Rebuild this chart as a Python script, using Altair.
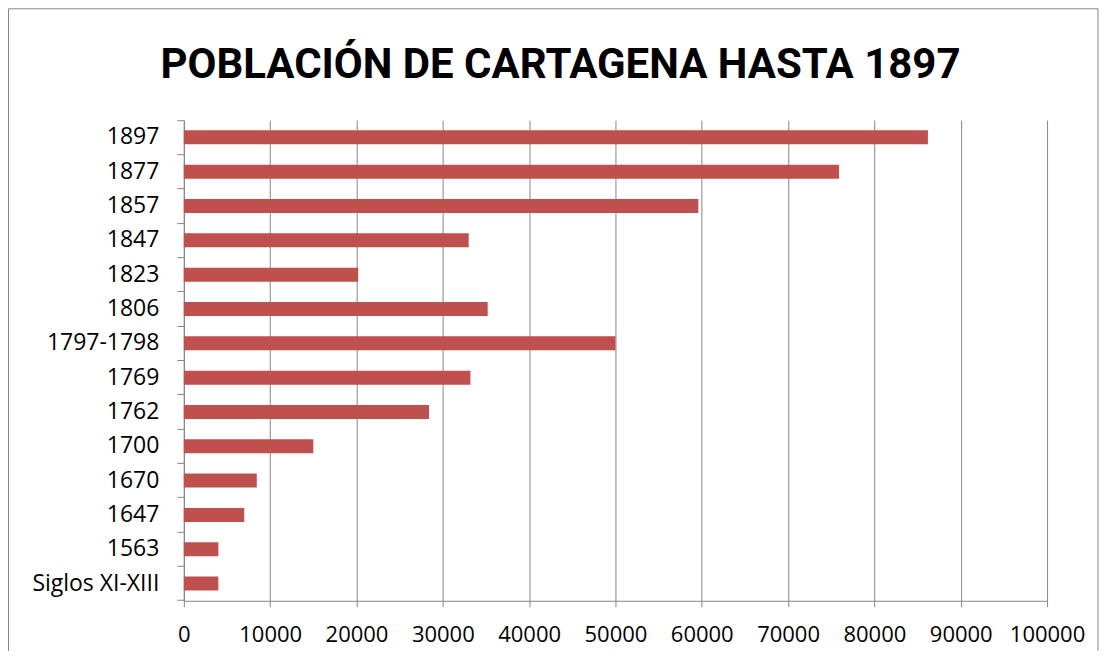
import altair as alt
import pandas as pd

categories = ["1897", "1877", "1857", "1847", "1823", "1806", "1797-1798",
              "1769", "1762", "1700", "1670", "1647", "1563", "Siglos XI-XIII"]
population = [86200, 75900, 59600, 33000, 20200, 35200, 50000,
              33200, 28400, 15000, 8450, 7000, 4000, 4000]
x_ticks = [0, 10000, 20000, 30000, 40000, 50000, 60000, 70000, 80000, 90000, 100000]
title_text = "POBLACIÓN DE CARTAGENA HASTA 1897"

df = pd.DataFrame({"periodo": categories, "poblacion": population})

GRAY = "#868686"
LABEL_FONT = "Open Sans"

bars = alt.Chart(df).mark_bar(size=14, color="#C0504D").encode(
    x=alt.X(
        "poblacion:Q",
        scale=alt.Scale(domain=[0, 100000], nice=False),
        axis=alt.Axis(
            values=x_ticks, format="d", title=None,
            grid=True, gridColor=GRAY, gridWidth=1,
            domainColor=GRAY, tickColor=GRAY, tickSize=6,
            labelFont=LABEL_FONT, labelFontSize=22, labelColor="black",
            labelPadding=18, labelFlush=False,
        ),
    ),
    y=alt.Y(
        "periodo:N",
        sort=categories,
        scale=alt.Scale(paddingInner=0, paddingOuter=0),
        axis=alt.Axis(
            title=None, grid=False, bandPosition=1, tickExtra=True,
            domainColor=GRAY, tickColor=GRAY, tickSize=7,
            labelFont=LABEL_FONT, labelFontSize=23, labelColor="black",
            labelPadding=18, labelLimit=300,
        ),
    ),
)

border = alt.Chart(pd.DataFrame({"a": [0]})).mark_rect(
    fillOpacity=0, stroke=GRAY, strokeWidth=1
).encode(
    x=alt.value(-175.5), x2=alt.value(915),
    y=alt.value(-111.5), y2=alt.value(700),
)

title = alt.Chart(pd.DataFrame({"t": [title_text]})).mark_text(
    font="Roboto",
    fontSize=42,
    fontWeight="bold",
    color="black",
    align="center",
    baseline="alphabetic",
).encode(
    text="t:N",
    x=alt.value(377),
    y=alt.value(-42),
)

chart = alt.layer(border, bars, title).properties(
    width=864,
    height=481,
    autosize=alt.AutoSizeParams(type="none"),
    padding={"left": 176, "top": 112, "right": 52, "bottom": 50},
).configure_view(stroke="transparent")

chart.save("out.html", embed_options={"renderer": "svg", "actions": False})
